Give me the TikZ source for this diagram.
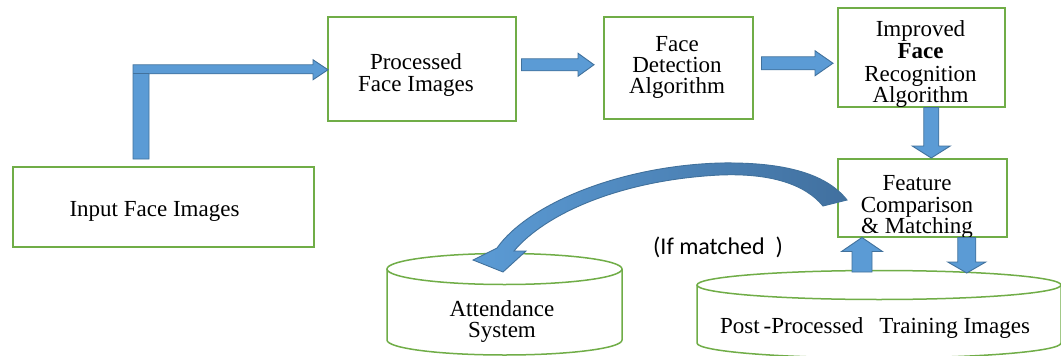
\documentclass[tikz,border=0pt]{standalone}
\usepackage{fontspec}
\setmainfont{Liberation Serif}
\newfontfamily\carlitofont{Carlito}
\usetikzlibrary{calc}
\definecolor{boxgreen}{HTML}{70AD47}
\definecolor{arrfill}{HTML}{5B9BD5}
\definecolor{arrline}{HTML}{41719C}
\definecolor{arrdark}{HTML}{41709F}
\newcommand\tnr{\fontsize{23}{23}\selectfont}
% block arrows: #1 start, #2 tip, #3 half shaft, #4 half head, #5 head length
\newcommand\rightblock[5]{\draw[barrow] ($(#1)+(0,-#3)$) -- ($(#2)+(-#5,-#3)$) -- ($(#2)+(-#5,-#4)$) -- (#2) -- ($(#2)+(-#5,#4)$) -- ($(#2)+(-#5,#3)$) -- ($(#1)+(0,#3)$) -- cycle;}
\newcommand\downblock[5]{\draw[barrow] ($(#1)+(-#3,0)$) -- ($(#2)+(-#3,-#5)$) -- ($(#2)+(-#4,-#5)$) -- (#2) -- ($(#2)+(#4,-#5)$) -- ($(#2)+(#3,-#5)$) -- ($(#1)+(#3,0)$) -- cycle;}
\newcommand\upblock[5]{\draw[barrow] ($(#1)+(-#3,0)$) -- ($(#2)+(-#3,#5)$) -- ($(#2)+(-#4,#5)$) -- (#2) -- ($(#2)+(#4,#5)$) -- ($(#2)+(#3,#5)$) -- ($(#1)+(#3,0)$) -- cycle;}
\begin{document}
\begin{tikzpicture}[x=1pt,y=-1pt,
  box/.style={draw=boxgreen, line width=1.5pt, fill=white, inner sep=0pt, anchor=north west},
  cyl/.style={draw=boxgreen, line width=1.5pt, fill=white},
  barrow/.style={fill=arrfill, draw=arrline, line width=0.9pt, line join=miter},
  lbl/.style={font=\tnr, inner sep=0pt, anchor=base}]
\useasboundingbox (0,0) rectangle (1061,356);
\fill[white] (0,0) rectangle (1061,356);

% boxes
\node[box, minimum width=301pt, minimum height=80pt] (inp) at (12,166) {};
\node[box, minimum width=188pt, minimum height=104pt] (proc) at (327,16) {};
\node[box, minimum width=149pt, minimum height=102pt] (det) at (603,16) {};
\node[box, minimum width=167pt, minimum height=99pt] (imp) at (837,7) {};
\node[box, minimum width=169pt, minimum height=78pt] (feat) at (837,158) {};

% cylinders
\draw[cyl] (387,269) -- (387,340) arc[start angle=180, end angle=0, x radius=117.5, y radius=15] -- (622,269);
\draw[cyl] (504.5,269) ellipse[x radius=117.5, y radius=15.5];
\draw[cyl] (697,285) -- (697,343) arc[start angle=180, end angle=0, x radius=182, y radius=15] -- (1061,285);
\draw[cyl] (879,285) ellipse[x radius=182, y radius=14.5];

% labels
\node[lbl] (tinp) at (154.5,216) {Input Face Images};
\node[lbl] (tproc1) at (416,69) {Processed};
\node[lbl] (tproc2) at (416,91) {Face Images};
\node[lbl] (tdet1) at (677,51) {Face};
\node[lbl] (tdet2) at (677,72) {Detection};
\node[lbl] (tdet3) at (677,93) {Algorithm};
\node[lbl] (timp1) at (920.5,36) {Improved};
\node[lbl] (timp2) at (920.5,58) {\bfseries Face};
\node[lbl] (timp3) at (920.5,81) {Recognition};
\node[lbl] (timp4) at (920.5,102) {Algorithm};
\node[lbl] (tfeat1) at (917,190) {Feature};
\node[lbl] (tfeat2) at (917,212) {Comparison};
\node[lbl] (tfeat3) at (917,233) {\&\ Matching};
\node[lbl] (tatt1) at (502,316) {Attendance};
\node[lbl] (tatt2) at (502,337) {System};
\node[lbl, anchor=base west] (tpost) at (720,333) {Post\,-Processed\hspace{0.7em}Training Images};
\node[inner sep=0pt, anchor=base west, font=\carlitofont\fontsize{24}{24}\selectfont] (tmatch) at (653,254) {(If matched\ \ )};

% L-shaped arrow: input -> processed
\coordinate (Ls) at ($(inp.north west)+(129,-7)$);
\coordinate (Le) at ($(proc.west)+(1,1)$);
\draw[barrow] ($(Ls)+(-8,0)$) -- ($(Ls |- Le)+(-8,-5)$) -- ($(Le)+(-15,-5)$) -- ($(Le)+(-15,-10)$) -- (Le)
  -- ($(Le)+(-15,10)$) -- ($(Le)+(-15,4)$) -- ($(Ls |- Le)+(8,4)$) -- ($(Ls)+(8,0)$) -- cycle;
\draw[arrline, line width=0.9pt] ($(Ls |- Le)+(-8,4)$) -- ($(Ls |- Le)+(8,4)$);

% processed -> detection
\coordinate (b0) at ($(proc.east)+(5,-4)$);
\coordinate (b1) at ($(det.west |- b0)+(-9,0)$);
\rightblock{b0}{b1}{6}{11.5}{16}

% detection -> improved
\coordinate (c0) at ($(det.east)+(8,-4.5)$);
\coordinate (c1) at ($(imp.west |- c0)+(-4,0)$);
\rightblock{c0}{c1}{6.5}{12.5}{18}

% improved -> feature
\coordinate (d0) at ($(imp.south)+(10,0)$);
\coordinate (d1) at (feat.north -| d0);
\downblock{d0}{d1}{7.5}{19}{12}

% post-processed -> feature (up)
\coordinate (e0) at (862,272);
\coordinate (e1) at (feat.south -| e0);
\upblock{e0}{e1}{10}{20.5}{14}

% feature -> post-processed (down)
\coordinate (f0) at ($(feat.south)+(44.5,0)$);
\coordinate (f1) at (f0 |- 0,273);
\downblock{f0}{f1}{9}{19}{11}

% curved arrow: feature -> attendance
\draw[left color=arrfill, right color=arrdark, draw=arrline, line width=0.9pt, line join=miter]
  (847,200) .. controls (825,172) and (780,162) .. (720,163)
  .. controls (620,166) and (528,204) .. (497,248)
  -- (473,260) -- (503,272) -- (526,251) -- (514,251)
  .. controls (545,214) and (620,180) .. (720,175)
  .. controls (770,173) and (805,184) .. (823,206) -- cycle;
\end{tikzpicture}
\end{document}
